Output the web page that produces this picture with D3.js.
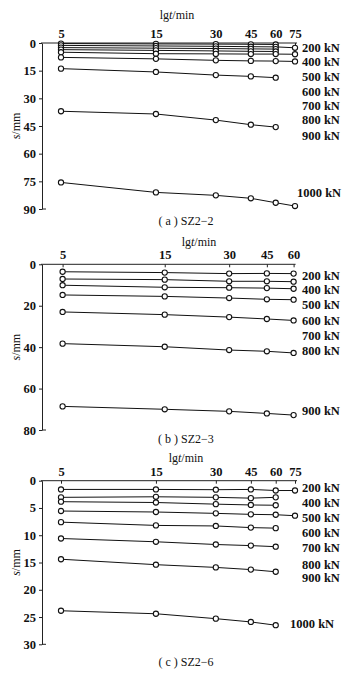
<!DOCTYPE html>
<meta charset="utf-8">
<style>
body { margin: 0; background: #fff; }
svg text { font-family: "Liberation Serif", "DejaVu Serif", serif; }
.tick text { font-size: 12.5px; font-weight: bold; fill: #111; }
.tick line { stroke: #222; }
.lbl { font-size: 12.5px; font-weight: bold; fill: #111; }
.cap { font-size: 12px; fill: #111; }
.ttl { font-size: 12px; fill: #111; }
.ser { fill: none; stroke: #111; stroke-width: 1; }
.pt { fill: #fff; stroke: #111; stroke-width: 1.1; }
</style>
<body>
<div id="chart"></div>
<script src="https://d3js.org/d3.v7.min.js"></script>
<script>

// time steps (min), x axis is logarithmic
var timesA = [5, 15, 30, 45, 60, 75];
var timesB = [5, 15, 30, 45, 60];
var timesC = [5, 15, 30, 45, 60, 75];

// settlement s (mm), one array per load line
var seriesA = [
  [0.3, 0.5, 0.6, 0.7, 0.8],
  [1.3, 1.6, 1.8, 2.0, 2.1, 2.6],
  [2.5, 2.8, 3.0, 3.2, 3.3],
  [3.6, 4.0, 4.3, 4.5, 4.6],
  [5.0, 5.8, 5.9, 6.0, 6.0, 6.1],
  [7.8, 8.6, 9.4, 9.7, 9.8, 10.0],
  [13.9, 15.7, 17.4, 18.1, 18.8],
  [37.0, 38.5, 41.8, 44.3, 45.6],
  [75.6, 81.0, 82.6, 84.2, 86.6, 88.4]
];
var seriesB = [
  [3.6, 4.0, 4.5, 4.4, 4.5],
  [7.1, 7.4, 8.2, 8.2, 8.4],
  [10.1, 11.1, 11.3, 11.5, 11.8],
  [14.8, 15.5, 16.3, 16.9, 17.1],
  [23.0, 24.3, 25.5, 26.4, 27.1],
  [38.3, 39.8, 41.4, 42.0, 42.8],
  [68.6, 70.0, 71.0, 72.0, 72.8]
];
var seriesC = [
  [1.6, 1.6, 1.65, 1.6, 1.8, 1.8],
  [3.05, 2.95, 3.05, 3.2, 3.05],
  [3.85, 4.0, 4.3, 4.45, 4.5],
  [5.56, 5.74, 5.99, 6.17, 6.24, 6.42],
  [7.6, 8.2, 8.3, 8.6, 8.7],
  [10.6, 11.2, 11.7, 11.9, 12.1],
  [14.4, 15.4, 15.9, 16.3, 16.7],
  [23.85, 24.4, 25.3, 25.9, 26.5]
];

var yTicksA = [0, 15, 30, 45, 60, 75, 90];
var yTicksB = [0, 20, 40, 60, 80];
var yTicksC = [0, 5, 10, 15, 20, 25, 30];

var loadsA = ["200 kN", "400 kN", "500 kN", "600 kN", "700 kN", "800 kN", "900 kN", "1000 kN"];
var loadsB = ["200 kN", "400 kN", "500 kN", "600 kN", "700 kN", "800 kN", "900 kN"];
var loadsC = ["200 kN", "400 kN", "500 kN", "600 kN", "700 kN", "800 kN", "900 kN", "1000 kN"];

var captions = ["( a ) SZ2\u22122", "( b ) SZ2\u22123", "( c ) SZ2\u22126"];

var width = 351, height = 675;

var svg = d3.select("#chart").append("svg")
  .attr("width", width)
  .attr("height", height);

// layout of each panel (pixels)
var panels = [
  { times: timesA, series: seriesA, yTicks: yTicksA, loads: loadsA, cap: captions[0],
    x0: 61, x1: 295, top: 43, bottom: 209, ymax: 90, titleX: 177, titleY: 19, capY: 225,
    labelAt: [2.7, 10.3, 18.4, 26.6, 34.2, 41.8, 50.4, 81.3], lastLabelX: 297 },
  { times: timesB, series: seriesB, yTicks: yTicksB, loads: loadsB, cap: captions[1],
    x0: 62.6, x1: 293.6, top: 264.3, bottom: 430, ymax: 80, titleX: 199, titleY: 246, capY: 443,
    labelAt: [5.7, 12.2, 19.7, 27.2, 34.6, 41.9, 70.5], lastLabelX: 302 },
  { times: timesC, series: seriesC, yTicks: yTicksC, loads: loadsC, cap: captions[2],
    x0: 61, x1: 295, top: 480.7, bottom: 644.3, ymax: 30, titleX: 186, titleY: 462, capY: 666,
    labelAt: [1.2, 4.0, 6.7, 9.5, 12.2, 15.3, 17.7, 26.2], lastLabelX: 290 }
];

var axisX = 42;

panels.forEach(function(p) {
  var x = d3.scaleLog().domain([p.times[0], p.times[p.times.length - 1]]).range([p.x0, p.x1]);
  var y = d3.scaleLinear().domain([0, p.ymax]).range([p.top, p.bottom]);
  var g = svg.append("g");

  // top x axis
  var xa = g.append("g")
    .attr("transform", `translate(0,${p.top})`)
    .call(d3.axisTop(x).tickValues(p.times).tickFormat(d3.format("d")).tickSize(-3).tickPadding(5));
  xa.select(".domain").remove();
  g.append("line")
    .attr("x1", axisX - 1).attr("x2", p.x1 + 2)
    .attr("y1", p.top).attr("y2", p.top)
    .attr("stroke", "#222");

  // left y axis
  var ya = g.append("g")
    .attr("transform", `translate(${axisX},0)`)
    .call(d3.axisLeft(y).tickValues(p.yTicks).tickSize(3).tickSizeOuter(0).tickPadding(3));
  ya.select(".domain").attr("stroke", "#222");
  g.append("line")
    .attr("x1", axisX).attr("x2", axisX + 4)
    .attr("y1", p.bottom).attr("y2", p.bottom)
    .attr("stroke", "#222");

  // x title
  var t = g.append("text").attr("class", "ttl")
    .attr("x", p.titleX).attr("y", p.titleY)
    .attr("text-anchor", "middle");
  t.append("tspan").text("lg");
  t.append("tspan").attr("font-style", "italic").text("t");
  t.append("tspan").text("/min");

  // y title
  var yt = g.append("text").attr("class", "ttl")
    .attr("transform", `translate(20,${(p.top + p.bottom) / 2}) rotate(-90)`)
    .attr("text-anchor", "middle");
  yt.append("tspan").attr("font-style", "italic").text("s");
  yt.append("tspan").text("/mm");

  var line = d3.line()
    .x(function(d, i) { return x(p.times[i]); })
    .y(function(d) { return y(d); });

  g.selectAll(".ser")
    .data(p.series)
    .enter().append("path")
    .attr("class", "ser")
    .attr("d", line);

  p.series.forEach(function(s) {
    g.selectAll(null)
      .data(s)
      .enter().append("circle")
      .attr("class", "pt")
      .attr("cx", function(d, i) { return x(p.times[i]); })
      .attr("cy", function(d) { return y(d); })
      .attr("r", 2.6);
  });

  // load labels
  g.selectAll(".lbl")
    .data(p.loads)
    .enter().append("text")
    .attr("class", "lbl")
    .attr("x", function(d, i) { return d === "1000 kN" ? p.lastLabelX : 302; })
    .attr("y", function(d, i) { return y(p.labelAt[i]); })
    .attr("dy", "0.35em")
    .text(function(d) { return d; });

  // caption
  g.append("text").attr("class", "cap")
    .attr("x", 186).attr("y", p.capY)
    .attr("text-anchor", "middle")
    .text(p.cap);
});

</script>
</body>
